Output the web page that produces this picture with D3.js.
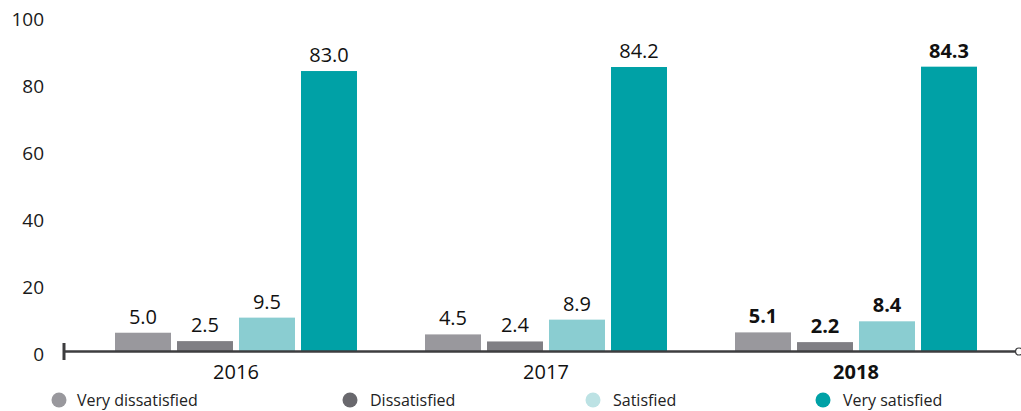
<!DOCTYPE html>
<html>
<head>
<meta charset="utf-8">
<script src="https://cdn.jsdelivr.net/npm/d3@7"></script>
<style>
  html, body { margin: 0; padding: 0; background: #fff; }
  svg { display: block; font-family: "Open Sans", "Noto Sans", sans-serif; }
</style>
</head>
<body>
<svg id="chart" width="1021" height="411"></svg>
<script>
const years = ["2016", "2017", "2018"];
const seriesNames = ["Very dissatisfied", "Dissatisfied", "Satisfied", "Very satisfied"];
const veryDissatisfied = [5.0, 4.5, 5.1];
const dissatisfied = [2.5, 2.4, 2.2];
const satisfied = [9.5, 8.9, 8.4];
const verySatisfied = [83.0, 84.2, 84.3];
const yTicks = [0, 20, 40, 60, 80, 100];
const barColors = ["#99989d", "#807f84", "#8acdd1", "#00a1a6"];
const legendColors = ["#99989d", "#69686d", "#bce2e4", "#00a1a6"];
const legendX = [59, 350, 593, 823];

const seriesValues = [veryDissatisfied, dissatisfied, satisfied, verySatisfied];
const svg = d3.select("#chart");

const x0 = d3.scaleBand().domain(years).range([115, 977]).paddingInner(0.2194).paddingOuter(0);
const x1 = d3.scaleBand().domain(seriesNames).range([0, x0.bandwidth()]).paddingInner(0.097).paddingOuter(0);
const y = d3.scaleLinear().domain([0, 100]).range([349.5, 14]);

// y tick labels
svg.append("g").selectAll("text").data(yTicks).join("text")
  .attr("x", 44).attr("y", d => y(d) + 5).attr("dy", "0.35em")
  .attr("text-anchor", "end")
  .attr("font-size", 19).attr("fill", "#1a1a1a")
  .text(d => d);

// bars
const groups = svg.append("g").selectAll("g").data(years).join("g")
  .attr("transform", d => `translate(${x0(d)},0)`);

groups.each(function(yr, yi) {
  const g = d3.select(this);
  const bold = yi === years.length - 1;
  seriesNames.forEach((s, si) => {
    const v = seriesValues[si][yi];
    g.append("rect")
      .attr("x", x1(s)).attr("width", x1.bandwidth())
      .attr("y", y(v)).attr("height", y(0) + 1.5 - y(v))
      .attr("fill", barColors[si]);
    g.append("text")
      .attr("x", x1(s) + x1.bandwidth() / 2).attr("y", y(v) - 9)
      .attr("text-anchor", "middle")
      .attr("font-size", 20).attr("font-weight", bold ? "bold" : "normal")
      .attr("fill", "#111")
      .text(v.toFixed(1));
  });
  g.append("text")
    .attr("x", x0.bandwidth() / 2).attr("y", 379)
    .attr("text-anchor", "middle")
    .attr("font-size", 20).attr("font-weight", bold ? "bold" : "normal")
    .attr("fill", "#111")
    .text(yr);
});

// axis line
svg.append("line").attr("x1", 63).attr("x2", 1015).attr("y1", 351.5).attr("y2", 351.5)
  .attr("stroke", "#3d3d3f").attr("stroke-width", 2.5);
svg.append("line").attr("x1", 64).attr("x2", 64).attr("y1", 343).attr("y2", 360)
  .attr("stroke", "#3d3d3f").attr("stroke-width", 3);
svg.append("circle").attr("cx", 1019).attr("cy", 351.5).attr("r", 3.5)
  .attr("fill", "#fff").attr("stroke", "#3d3d3f").attr("stroke-width", 1.2);

// legend
const leg = svg.append("g").selectAll("g").data(seriesNames).join("g")
  .attr("transform", (d, i) => `translate(${legendX[i]},400)`);
leg.append("circle").attr("r", 7.5).attr("fill", (d, i) => legendColors[i]);
leg.append("text").attr("x", (d, i) => i === 0 ? 18 : 20).attr("y", 6)
  .attr("font-size", 16).attr("fill", "#222").text(d => d);
</script>
</body>
</html>
